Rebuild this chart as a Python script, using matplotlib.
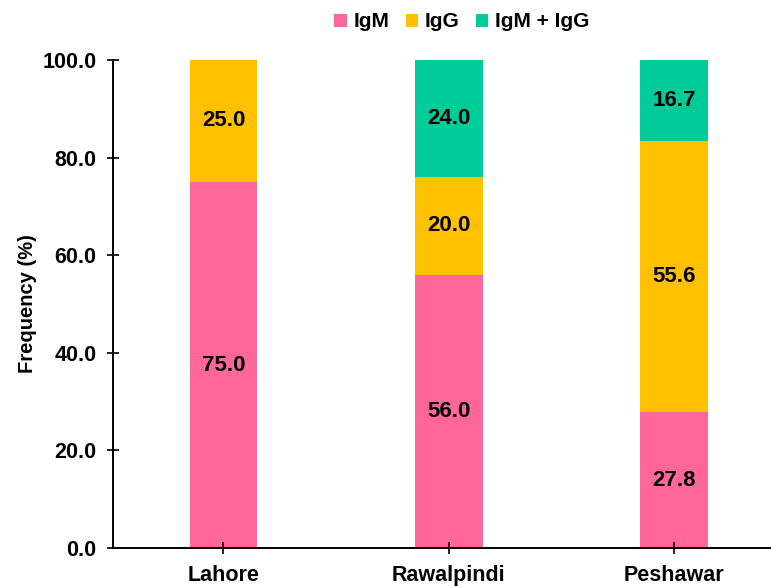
import matplotlib
matplotlib.use("Agg")
import matplotlib.pyplot as plt
import numpy as np

plt.rcParams['font.family'] = ['Liberation Sans', 'DejaVu Sans']
plt.rcParams['font.weight'] = 'bold'

cities = ['Lahore', 'Rawalpindi', 'Peshawar']
igm = [75.0, 56.0, 27.8]
igg = [25.0, 20.0, 55.6]
igm_igg = [0.0, 24.0, 16.7]
series_names = ['IgM', 'IgG', 'IgM + IgG']
colors = ['#FF6699', '#FFC000', '#00CC99']

fig = plt.figure(figsize=(7.71, 5.88), dpi=100)
ax = fig.add_axes([0.1466, 0.068, 0.8534, 0.830])

x = np.arange(len(cities))
width = 0.30
bottom = np.zeros(len(cities))
for vals, name, c in zip([igm, igg, igm_igg], series_names, colors):
    vals = np.array(vals)
    bars = ax.bar(x, vals, width, bottom=bottom, color=c, label=name)
    for xi, b, v in zip(x, bottom, vals):
        if v > 0:
            ax.text(xi, b + v / 2, f'{v:.1f}', ha='center', va='center',
                    fontsize=16, fontweight='bold', color='black')
    bottom += vals

ax.set_xlim(-0.49, 2.43)
ax.set_ylim(0, 100)
ax.set_yticks(np.arange(0, 101, 20))
ax.set_yticklabels([f'{v:.1f}' for v in np.arange(0, 101, 20)])
ax.set_xticks(x)
ax.set_xticklabels(cities)
ax.tick_params(axis='both', direction='inout', length=8, width=1.2,
               labelsize=15.5, pad=8)
ax.set_ylabel('Frequency (%)', fontsize=14.5, fontweight='bold', labelpad=4)
for s in ['top', 'right']:
    ax.spines[s].set_visible(False)
for s in ['left', 'bottom']:
    ax.spines[s].set_linewidth(1.4)

ax.legend(loc='lower center', bbox_to_anchor=(0.53, 1.02), ncol=3, frameon=False,
          fontsize=15, handlelength=0.6, handleheight=0.6, handletextpad=0.3,
          columnspacing=0.8)

fig.savefig('out.png', dpi=100)
